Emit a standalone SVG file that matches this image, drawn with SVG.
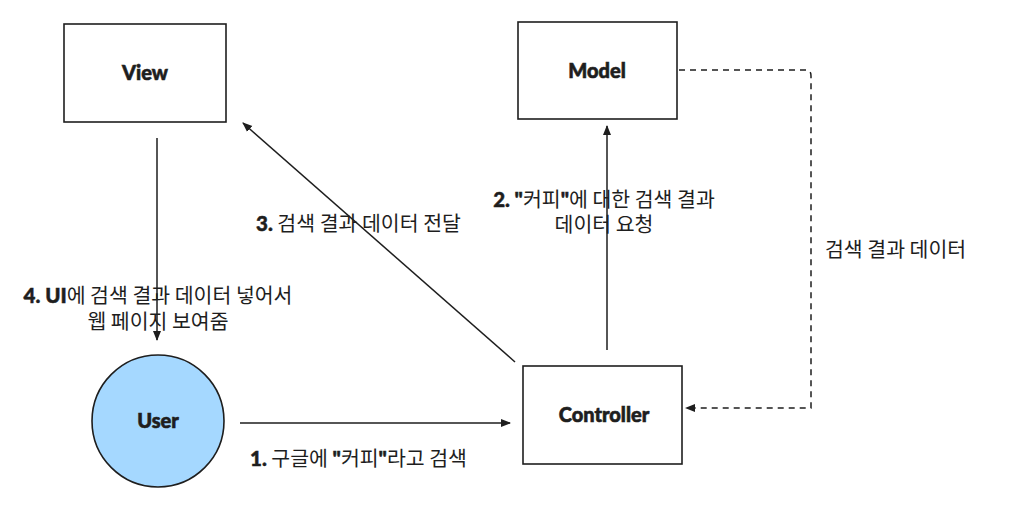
<svg xmlns="http://www.w3.org/2000/svg" width="1010" height="506" viewBox="0 0 1010 506">
<defs>
<style>
.box{fill:#ffffff;stroke:#1e1e1e;stroke-width:1.6}
.node{font-family:Lato,"Liberation Sans",sans-serif;font-weight:900;font-size:20px;fill:#1e1e1e;stroke:#1e1e1e;stroke-width:0.6}
.lbl{font-family:"Noto Sans CJK KR","Noto Sans",sans-serif;font-size:20.5px;fill:#1e1e1e}
.num{font-family:Lato,"Liberation Sans",sans-serif;font-weight:900;stroke:#1e1e1e;stroke-width:0.5}
.edge{fill:none;stroke:#1e1e1e;stroke-width:1.5}
.dash{stroke-dasharray:6 5}
</style>
<marker id="ah" viewBox="0 0 10 10" refX="9" refY="5" markerWidth="10" markerHeight="10" markerUnits="userSpaceOnUse" orient="auto">
<path d="M0,1 L10,5 L0,9 Z" fill="#1e1e1e"/>
</marker>
</defs>
<rect width="1010" height="506" fill="#ffffff"/>
<g id="connectors">
<path class="edge" d="M157,138 V340" marker-end="url(#ah)"/>
<path class="edge" d="M515,362 L243,123" marker-end="url(#ah)"/>
<path class="edge" d="M607,350 V126" marker-end="url(#ah)"/>
<path class="edge" d="M240,423 H510" marker-end="url(#ah)"/>
<path class="edge dash" d="M679,70 H806 Q811,70 811,76 V408 H686" marker-end="url(#ah)"/>
</g>
<g id="labels">
<text class="lbl" x="256" y="231"><tspan class="num">3.</tspan> 검색 결과 데이터 전달</text>
<text class="lbl" text-anchor="middle"><tspan x="604" y="207"><tspan class="num">2.</tspan> <tspan class="num">"</tspan>커피<tspan class="num">"</tspan>에 대한 검색 결과</tspan><tspan x="604" y="232">데이터 요청</tspan></text>
<text class="lbl" x="825" y="257">검색 결과 데이터</text>
<text class="lbl" text-anchor="middle"><tspan x="158" y="303"><tspan class="num">4. UI</tspan>에 검색 결과 데이터 넣어서</tspan><tspan x="158" y="329">웹 페이지 보여줌</tspan></text>
<text class="lbl" x="250" y="466"><tspan class="num">1.</tspan> 구글에 <tspan class="num">"</tspan>커피<tspan class="num">"</tspan>라고 검색</text>
</g>
<g id="view">
<rect class="box" x="64" y="24" width="162" height="98"/>
<text class="node" x="145" y="80" text-anchor="middle">View</text>
</g>
<g id="model">
<rect class="box" x="518" y="22" width="159" height="97"/>
<text class="node" x="597" y="78" text-anchor="middle">Model</text>
</g>
<g id="controller">
<rect class="box" x="523" y="366" width="159" height="98"/>
<text class="node" x="604" y="422" text-anchor="middle">Controller</text>
</g>
<g id="user">
<circle cx="158" cy="421" r="66" fill="#a5d8ff" stroke="#1e1e1e" stroke-width="1.6"/>
<text class="node" x="158" y="428" text-anchor="middle">User</text>
</g>
</svg>
